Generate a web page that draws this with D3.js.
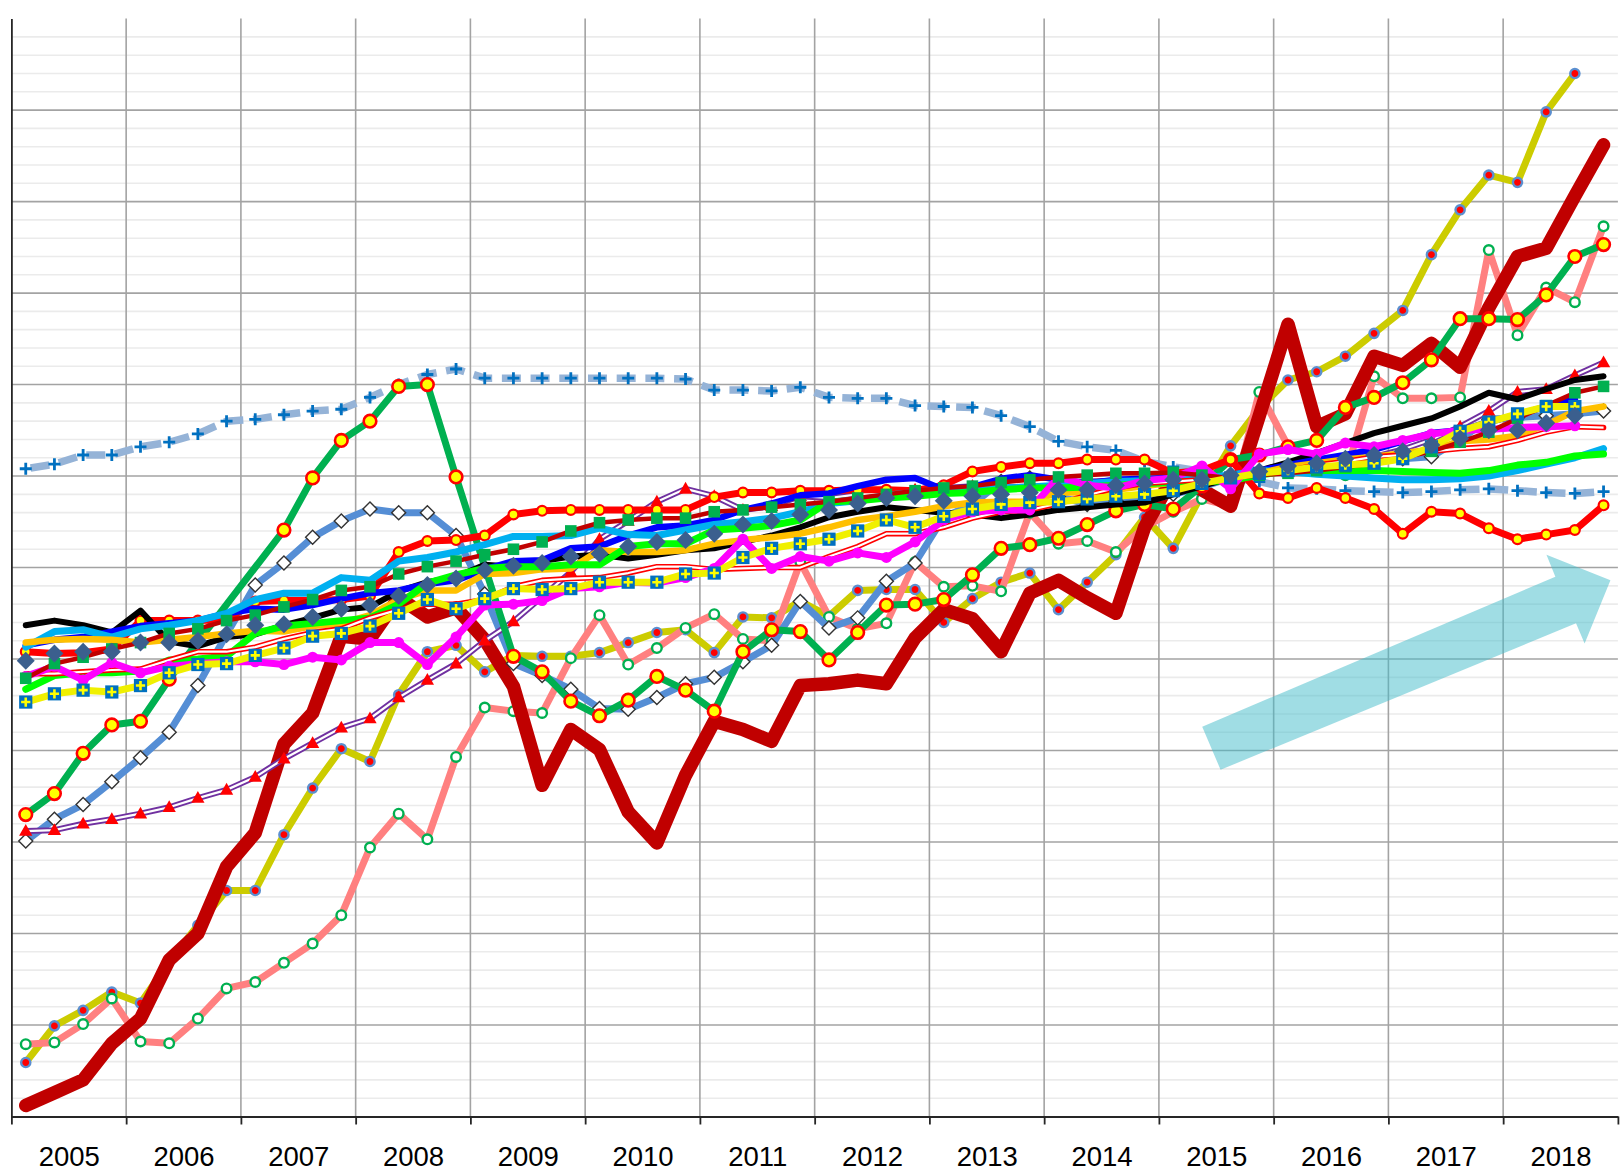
<!DOCTYPE html>
<html lang="en">
<head>
<meta charset="utf-8">
<title>Quarterly index 2005-2018</title>
<style>
  html, body { margin: 0; padding: 0; background: #ffffff; }
  #chart svg { display: block; }
</style>
</head>
<body>
<div id="chart"></div>
<script src="https://d3js.org/d3.v7.min.js"></script>
<script>
// ---- data: one value per quarter, 2005 Q1 .. 2018 Q4 (null = no value) ----
var years = ["2005", "2006", "2007", "2008", "2009", "2010", "2011", "2012", "2013", "2014", "2015", "2016", "2017", "2018"];

var blueDashed = [100.8,101.3,102.3,102.3,103.2,103.7,104.6,106.0,106.2,106.7,107.1,107.3,108.6,110.0,111.1,111.7,110.7,110.7,110.7,110.7,110.7,110.7,110.7,110.6,109.4,109.4,109.3,109.7,108.6,108.5,108.5,107.7,107.6,107.5,106.6,105.4,103.8,103.2,102.8,101.6,101.0,100.5,99.8,99.4,98.7,98.6,98.4,98.3,98.2,98.3,98.5,98.6,98.4,98.2,98.1,98.3];
var greenCircles = [63.0,65.3,69.7,72.8,73.2,77.8,null,null,null,94.1,99.8,103.9,106.0,109.8,110.0,99.9,null,80.3,78.6,75.4,73.8,75.5,78.1,76.6,74.3,80.8,83.2,83.0,79.9,82.9,85.9,86.0,86.5,89.2,92.1,92.5,93.2,94.7,96.2,96.9,96.4,98.9,101.8,102.3,103.2,103.9,107.5,108.6,110.2,112.7,117.2,117.2,117.1,119.8,124.0,125.3];
var steelDiamonds = [60.1,62.5,64.1,66.6,69.2,72.0,77.1,82.7,88.1,90.5,93.3,95.1,96.4,96.0,96.0,93.5,87.1,79.5,78.2,76.7,74.6,74.5,75.8,77.3,78.0,79.7,81.5,86.3,83.4,84.5,88.5,90.5,95.5,96.9,99.4,99.8,97.8,96.9,97.3,97.3,98.0,98.8,99.8,100.3,100.6,101.0,101.4,101.6,101.9,102.1,104.0,106.2,106.4,106.6,106.8,107.1];
var purpleTriangles = [61.2,61.3,62.0,62.5,63.1,63.8,64.8,65.7,67.1,69.1,70.8,72.5,73.5,75.8,77.7,79.5,82.0,84.1,86.8,89.5,93.1,95.1,97.2,98.6,97.8,96.3,96.7,97.8,97.6,98.0,98.2,98.5,98.7,98.9,99.2,99.3,99.4,99.4,99.5,99.6,99.6,99.6,99.8,100.3,100.6,101.2,101.6,102.1,102.9,104.0,105.4,107.1,109.2,109.5,111.0,112.4];
var darkRedThick = [31.2,32.6,34.0,38.0,40.7,47.1,50.0,57.3,61.0,70.7,74.1,82.5,82.2,86.7,84.6,85.6,82.1,77.0,66.2,72.3,70.1,63.3,59.9,67.3,73.2,72.3,71.0,77.1,77.3,77.7,77.3,82.3,85.4,84.4,80.8,87.2,88.6,86.7,85.0,94.4,99.9,98.5,96.7,106.6,116.6,105.4,106.8,113.1,112.1,114.5,111.9,118.4,124.0,124.9,130.6,136.2];
var oliveDots = [35.9,39.9,41.6,43.6,42.4,46.9,50.9,54.7,54.7,60.8,65.9,70.2,68.8,76.1,80.8,81.5,78.6,80.4,80.3,80.3,80.7,81.8,82.9,83.2,80.7,84.6,84.5,86.3,84.7,87.5,87.6,87.6,84.0,86.6,88.4,89.4,85.4,88.4,91.4,95.5,92.1,98.0,103.3,107.4,110.5,111.4,113.1,115.6,118.1,124.2,129.1,132.9,132.1,139.8,144.0,null];
var salmonRings = [37.9,38.1,40.1,42.9,38.2,38.0,40.7,44.0,44.7,46.8,48.9,52.0,59.4,63.1,60.3,69.3,74.7,74.3,74.1,80.1,84.8,79.4,81.2,83.4,84.9,82.2,82.0,90.6,84.6,83.3,83.9,90.6,87.9,88.0,87.4,96.0,92.6,92.9,91.7,94.4,96.1,97.5,96.7,109.2,103.3,101.8,100.1,110.9,108.5,108.5,108.6,124.7,115.4,120.6,119.0,127.3];
var redDots = [80.8,80.6,80.7,81.1,84.2,84.2,84.2,84.3,86.3,86.4,86.4,86.5,86.9,91.7,92.9,93.0,93.5,95.8,96.2,96.3,96.3,96.3,96.3,96.3,97.7,98.2,98.2,98.4,98.4,98.5,98.5,98.4,99.0,100.5,101.0,101.4,101.4,101.8,101.8,101.8,100.3,100.6,101.8,98.1,97.6,98.7,97.6,96.4,93.7,96.1,95.9,94.3,93.1,93.6,94.1,96.8];
var blackLine = [83.7,84.2,83.7,82.9,85.3,81.9,81.4,82.4,82.7,83.7,84.5,85.4,85.7,87.4,88.4,89.0,90.3,90.1,90.7,91.2,91.4,91.0,91.4,91.9,92.1,92.8,93.5,94.4,95.5,96.1,96.6,96.3,96.0,95.8,95.4,95.8,96.3,96.6,96.9,97.1,98.0,98.9,99.8,100.6,101.5,102.5,103.6,104.7,105.5,106.3,107.6,109.1,108.4,109.5,110.5,110.9];
var blueLine = [81.5,82.1,82.4,83.0,83.6,83.9,84.2,85.0,85.5,85.4,85.9,86.6,87.2,87.5,88.2,88.6,89.8,90.7,90.8,92.1,92.3,93.5,94.4,94.6,95.2,96.3,97.0,97.9,98.1,98.9,99.6,99.8,98.5,98.8,99.7,100.1,99.6,99.2,99.6,99.7,99.8,99.8,100.1,100.6,101.2,101.8,102.3,102.9,103.8,104.7,105.0,105.9,106.7,107.6,108.4,null];
var cyanLine = [81.3,83.0,83.2,82.4,83.3,83.7,84.2,85.0,86.5,87.2,87.2,88.9,88.6,90.7,91.1,91.7,92.5,93.4,93.4,93.5,94.3,93.6,93.5,94.1,94.7,95.0,95.4,96.1,97.0,97.3,97.9,98.2,98.5,98.6,98.7,98.8,99.0,99.2,99.4,99.5,99.7,99.8,100.1,100.6,100.5,100.2,100.0,99.8,99.6,99.6,99.7,100.0,100.6,101.3,102.0,103.0];
var orangeLine = [81.8,82.1,82.2,82.1,81.8,82.1,82.4,82.8,83.1,83.0,83.6,83.9,84.8,86.5,87.5,87.5,89.3,89.4,89.8,89.9,91.9,91.7,91.7,91.9,92.6,93.0,93.3,93.7,94.4,95.2,95.6,96.1,96.7,97.1,97.2,97.2,98.2,98.2,98.5,98.9,99.3,99.5,99.8,100.3,101.0,101.4,101.8,102.1,102.5,102.9,103.8,104.0,104.4,105.6,107.1,107.6];
var limeLine = [76.7,78.2,78.5,78.5,78.7,79.9,80.0,80.3,82.8,83.6,83.9,84.2,84.5,86.0,88.3,89.2,89.9,90.1,90.1,90.3,90.3,92.3,92.6,92.6,94.1,94.3,94.6,95.2,97.2,97.3,97.6,97.8,98.1,98.2,98.5,98.7,98.7,98.8,99.0,99.2,99.3,99.4,99.5,100.1,100.6,100.6,100.6,100.6,100.5,100.4,100.3,100.6,101.2,101.5,102.2,102.4];
var magentaDots = [78.1,79.2,77.7,79.6,78.5,79.2,79.5,79.7,79.7,79.4,80.2,79.9,81.8,81.8,79.4,82.4,85.9,86.0,86.4,87.7,87.9,88.4,88.3,88.9,89.9,93.1,89.9,91.2,90.7,91.6,91.1,92.8,95.2,96.1,96.3,96.3,99.9,99.0,98.7,99.5,99.8,101.1,98.6,102.4,102.9,102.4,103.6,103.2,103.9,104.6,105.0,105.1,105.3,105.4,105.5,null];
var yellowSquares = [75.3,76.2,76.6,76.4,77.1,78.5,79.4,79.5,80.4,81.2,82.5,82.8,83.6,85.0,86.5,85.5,86.6,87.7,87.6,87.7,88.4,88.4,88.4,89.3,89.4,91.1,92.1,92.6,93.1,94.0,95.2,94.4,95.6,96.4,96.9,97.1,97.2,97.5,97.8,98.0,98.4,99.2,99.8,100.3,100.6,101.0,101.2,101.4,101.9,103.2,104.9,105.9,106.8,107.6,107.6,null];
var maroonSquares = [77.9,79.5,80.2,81.1,81.8,82.8,83.3,84.2,84.8,85.7,86.5,87.5,87.9,89.3,90.1,90.7,91.4,92.0,92.8,94.0,94.9,95.2,95.4,95.4,96.1,96.3,96.6,96.9,97.2,97.6,98.0,98.4,98.7,98.9,99.3,99.6,99.9,100.1,100.3,100.3,100.4,100.1,99.8,100.1,100.3,100.6,101.0,101.4,102.0,102.7,103.7,104.8,106.3,107.7,109.1,109.8];
var slateDiamonds = [79.8,80.6,80.8,80.8,81.8,81.8,82.0,82.7,83.7,83.8,84.6,85.5,85.9,86.9,88.1,88.8,89.7,90.2,90.5,91.2,91.5,92.3,92.8,93.0,93.7,94.7,95.1,95.8,96.3,97.0,97.6,97.8,97.3,97.8,98.0,98.2,98.5,98.5,99.0,99.2,99.6,99.6,100.1,100.5,101.1,101.4,101.9,102.3,102.7,103.4,104.1,105.0,105.0,105.8,106.6,null];
var redDouble = [78.4,78.4,78.6,78.8,78.9,79.9,80.8,80.8,81.3,82.2,82.9,83.3,84.5,85.4,86.0,86.0,86.5,87.9,88.6,88.8,88.9,89.4,90.1,90.1,89.8,89.9,90.0,90.0,91.2,92.3,93.7,93.7,94.4,95.4,96.1,96.3,97.0,97.9,98.7,99.2,99.4,99.6,99.8,100.3,100.6,101.2,101.6,102.1,102.3,102.7,103.0,103.2,103.9,104.8,105.4,105.3];

// trend arrow outline, as [quarter position, index value]
var trendArrow = [[42.15,67.9],[41.51,72.6],[53.82,89.0],[53.51,91.4],[55.74,88.6],[54.84,81.7],[54.54,83.9]];

// ---- drawing order and look of each series ----
var series = [
    {values: blueDashed, color: "#95b3d7", width: 7.5, dash: "19,9.7", marker: "plus", r: 6, mColor: "#0070c0"},
    {values: oliveDots, color: "#cccc00", width: 7, marker: "circle", r: 4.6, mFill: "#ff0000", mStroke: "#5b8fd0", mStrokeW: 2.4},
    {values: salmonRings, color: "#ff8080", width: 7, marker: "circle", r: 4.8, mFill: "#ffffff", mStroke: "#00b050", mStrokeW: 2.4},
    {values: darkRedThick, color: "#c00000", width: 13.5},
    {values: steelDiamonds, color: "#558ed5", width: 7, marker: "diamond", r: 7, mFill: "#ffffff", mStroke: "#333333", mStrokeW: 1.4},
    {values: purpleTriangles, color: "#7030a0", width: 6, inner: 2.2, marker: "triangle", r: 7, mFill: "#ff0000"},
    {values: greenCircles, color: "#00b050", width: 7, marker: "circle", r: 6.3, mFill: "#ffff00", mStroke: "#ff0000", mStrokeW: 2.6},
    {values: redDots, color: "#ff0000", width: 7, marker: "circle", r: 4.9, mFill: "#ffff00", mStroke: "#ff0000", mStrokeW: 2.2},
    {values: blackLine, color: "#000000", width: 6},
    {values: blueLine, color: "#0000ff", width: 6.5},
    {values: cyanLine, color: "#00b0f0", width: 7},
    {values: orangeLine, color: "#ffc000", width: 6.5},
    {values: limeLine, color: "#00ff00", width: 7},
    {values: redDouble, color: "#ff0000", width: 5.5, inner: 2.2},
    {values: magentaDots, color: "#ff00ff", width: 7, marker: "circle", r: 5.5, mFill: "#ff00ff"},
    {values: maroonSquares, color: "#c00000", width: 4.5, marker: "square", r: 5.8, mFill: "#00b050"},
    {values: yellowSquares, color: "#f0f000", width: 7, marker: "squarePlus", r: 6.6, mFill: "#0070c0", mStroke: "#ffff00"},
    {values: slateDiamonds, color: "#3b5f8e", width: 0, marker: "diamond", r: 9, mFill: "#3b5f8e"}
];

var width = 1621, height = 1171;
var margin = {top: 18.6, right: 3.1, bottom: 54.5, left: 11.4};
var innerW = width - margin.left - margin.right,
    innerH = height - margin.top - margin.bottom;

var svg = d3.select("#chart").append("svg")
    .attr("width", width)
    .attr("height", height);

var g = svg.append("g")
    .attr("transform", "translate(" + margin.left + "," + margin.top + ")");

var nQuarters = years.length * 4;
var x = d3.scaleLinear().domain([0, nQuarters]).range([0, innerW]);
var y = d3.scaleLinear().domain([30, 150]).range([innerH, 0]);

// minor and major horizontal gridlines
g.append("g").selectAll("line")
    .data(d3.range(32, 150, 2).filter(function (v) { return v % 10 !== 0; }))
    .join("line")
    .attr("x1", 0).attr("x2", innerW)
    .attr("y1", function (d) { return y(d); })
    .attr("y2", function (d) { return y(d); })
    .attr("stroke", "#ebebeb")
    .attr("stroke-width", 1.6);

g.append("g").selectAll("line")
    .data(d3.range(40, 150, 10))
    .join("line")
    .attr("x1", 0).attr("x2", innerW)
    .attr("y1", function (d) { return y(d); })
    .attr("y2", function (d) { return y(d); })
    .attr("stroke", "#a3a3a3")
    .attr("stroke-width", 1.6);

// year boundaries
g.append("g").selectAll("line")
    .data(d3.range(4, nQuarters, 4))
    .join("line")
    .attr("x1", function (d) { return x(d); })
    .attr("x2", function (d) { return x(d); })
    .attr("y1", 0).attr("y2", innerH)
    .attr("stroke", "#a3a3a3")
    .attr("stroke-width", 1.6);

// trend arrow
g.append("path")
    .datum(trendArrow)
    .attr("d", d3.line().x(function (d) { return x(d[0]); }).y(function (d) { return y(d[1]); }).curve(d3.curveLinearClosed))
    .attr("fill", "rgb(65,187,201)")
    .attr("fill-opacity", 0.5);

// axes
var yAxisG = g.append("g").call(d3.axisLeft(y).tickValues([]).tickSizeOuter(0));
yAxisG.select(".domain").attr("stroke", "#262626").attr("stroke-width", 1.8);

var xTicks = d3.axisBottom(x)
    .tickValues(d3.range(0, nQuarters + 1, 4))
    .tickSize(8)
    .tickSizeOuter(0)
    .tickFormat("");
var xAxisG = g.append("g")
    .attr("transform", "translate(0," + innerH + ")")
    .call(xTicks);
xAxisG.select(".domain").attr("stroke", "#262626").attr("stroke-width", 1.8);
xAxisG.selectAll(".tick line").attr("stroke", "#262626").attr("stroke-width", 1.8);

var xLabels = d3.axisBottom(x)
    .tickValues(years.map(function (d, i) { return i * 4 + 2; }))
    .tickFormat(function (d) { return years[(d - 2) / 4]; })
    .tickSize(0)
    .tickPadding(30);
var labelG = g.append("g")
    .attr("transform", "translate(0," + innerH + ")")
    .call(xLabels);
labelG.select(".domain").remove();
labelG.selectAll("text")
    .attr("font-family", "'Liberation Sans', Arial, sans-serif")
    .attr("font-size", 27.5)
    .attr("fill", "#000");

// series
var line = d3.line()
    .x(function (p) { return x(p.i + 0.5); })
    .y(function (p) { return y(p.v); });

function diamondPath(r) { return "M0," + (-r) + "L" + r + ",0L0," + r + "L" + (-r) + ",0Z"; }
function plusPath(r) { return "M" + (-r) + ",0H" + r + "M0," + (-r) + "V" + r; }
function trianglePath(r) { return "M0," + (-r) + "L" + (r * 0.95) + "," + (r * 0.68) + "L" + (-r * 0.95) + "," + (r * 0.68) + "Z"; }

series.forEach(function (s) {
    var pts = s.values.map(function (v, i) { return {i: i, v: v}; })
        .filter(function (p) { return p.v != null; });
    var sg = g.append("g");

    if (s.width > 0) {
        var path = sg.append("path")
            .datum(pts)
            .attr("d", line)
            .attr("fill", "none")
            .attr("stroke", s.color)
            .attr("stroke-width", s.width)
            .attr("stroke-linejoin", "round")
            .attr("stroke-linecap", s.dash ? "butt" : "round");
        if (s.dash) path.attr("stroke-dasharray", s.dash).attr("stroke-dashoffset", 23.8);
        if (s.inner) {
            sg.append("path")
                .datum(pts)
                .attr("d", line)
                .attr("fill", "none")
                .attr("stroke", "#ffffff")
                .attr("stroke-width", s.inner)
                .attr("stroke-linejoin", "round");
        }
    }

    if (!s.marker) return;

    var mk = sg.selectAll(".mk")
        .data(pts)
        .join("g")
        .attr("class", "mk")
        .attr("transform", function (p) { return "translate(" + x(p.i + 0.5) + "," + y(p.v) + ")"; });

    if (s.marker === "circle") {
        mk.append("circle")
            .attr("r", s.r)
            .attr("fill", s.mFill)
            .attr("stroke", s.mStroke || "none")
            .attr("stroke-width", s.mStrokeW || 0);
    } else if (s.marker === "diamond") {
        mk.append("path")
            .attr("d", diamondPath(s.r))
            .attr("fill", s.mFill)
            .attr("stroke", s.mStroke || "none")
            .attr("stroke-width", s.mStrokeW || 0);
    } else if (s.marker === "triangle") {
        mk.append("path")
            .attr("d", trianglePath(s.r))
            .attr("fill", s.mFill);
    } else if (s.marker === "square") {
        mk.append("rect")
            .attr("x", -s.r).attr("y", -s.r)
            .attr("width", s.r * 2).attr("height", s.r * 2)
            .attr("fill", s.mFill);
    } else if (s.marker === "squarePlus") {
        mk.append("rect")
            .attr("x", -s.r).attr("y", -s.r)
            .attr("width", s.r * 2).attr("height", s.r * 2)
            .attr("fill", s.mFill);
        mk.append("path")
            .attr("d", plusPath(s.r * 0.7))
            .attr("stroke", s.mStroke)
            .attr("stroke-width", 2.6);
    } else if (s.marker === "plus") {
        mk.append("path")
            .attr("d", plusPath(s.r))
            .attr("stroke", s.mColor)
            .attr("stroke-width", 2.8);
    }
});
</script>
</body>
</html>
